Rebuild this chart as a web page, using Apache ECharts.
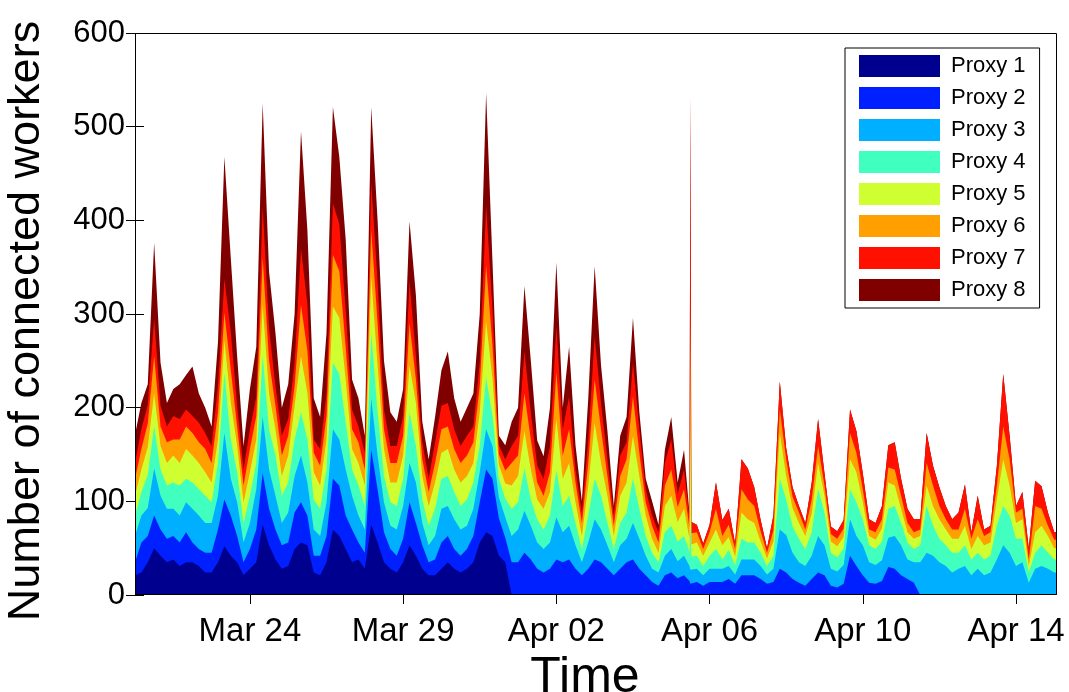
<!DOCTYPE html>
<html><head><meta charset="utf-8">
<script src="https://cdn.jsdelivr.net/npm/echarts@6/dist/echarts.min.js"></script>
<style>html,body{margin:0;padding:0;background:#fff}#c{width:1069px;height:692px}</style>
</head><body><div id="c"></div>
<script>
// ---- data ----
const seriesNames = ['Proxy 1','Proxy 2','Proxy 3','Proxy 4','Proxy 5','Proxy 6','Proxy 7','Proxy 8'];
const colors = ['#00008F','#0020FF','#00AFFF','#40FFBF','#CFFF30','#FF9F00','#FF1000','#800000'];
const tickDays = [3, 7, 11, 15, 19, 23];
const tickLabels = ['Mar 24','Mar 29','Apr 02','Apr 06','Apr 10','Apr 14'];
const sampleStepHours = 4; // one sample every 4 hours from the start of the plot

const proxy1 = [21,24,35,50,42,35,38,31,35,35, 31,24,24,35,52,42,35,21,28,35,
  75,53,38,28,31,49,56,53,24,21, 35,70,63,49,35,38,28,75,56,35,
  28,24,35,53,42,28,21,21,28,35, 28,24,28,35,56,67,63,42,35,0,
  0,0,0,0,0,0,0,0,0,0, 0,0,0,0,0,0,0,0,0,0, 0,0,0,0,0,0,0,0,0,0,
  0,0,0,0,0,0,0,0,0,0, 0,0,0,0,0,0,0,0,0,0, 0,0,0,0,0,0,0,0,0,0,
  0,0,0,0,0,0,0,0,0,0, 0,0,0,0,0,0,0,0,0,0, 0,0,0,0,0,0];
const proxy2 = [14,32,28,35,28,25,25,25,32,21, 18,21,21,35,50,43,28,14,21,35,
  55,39,32,25,25,39,43,32,18,21, 28,54,54,36,35,18,17,80,57,32,
  21,18,25,46,35,25,14,17,28,28, 21,18,21,28,43,67,61,40,26,35,
  35,45,38,28,24,28,38,35,38,28, 21,28,38,35,28,21,28,35,38,28,
  21,14,10,21,24,18,21,12,14,10, 14,14,14,17,12,21,21,21,17,12,
  14,28,24,17,13,10,17,24,21,10, 8,12,42,31,21,13,12,15,30,28,
  21,17,13,0,0,0,0,0,0,0, 0,0,0,0,0,0,0,0,0,0, 0,0,0,0,0,0];
const proxy3 = [28,29,30,50,36,32,29,29,32,36, 36,32,32,36,71,39,36,21,28,43,
  60,42,36,24,32,39,50,35,28,21, 36,53,49,49,36,29,25,55,36,32,
  25,28,35,42,43,24,18,25,36,32, 32,28,25,29,32,43,35,22,22,28,
  35,45,36,28,25,28,45,32,36,25, 14,28,43,35,25,14,25,25,39,32,
  21,14,14,21,25,18,21,15,14,11, 14,14,14,14,10,17,17,17,14,10,
  14,42,40,28,22,21,25,39,32,18, 17,20,39,32,32,22,20,22,31,35,
  32,21,22,35,45,42,35,31,24,28, 31,21,28,21,24,38,53,45,31,35, 13,28,31,28,24,24];
const proxy4 = [22,25,35,45,28,25,28,32,25,28, 28,29,22,35,64,42,32,21,29,28,
  65,43,43,29,32,39,46,46,32,29, 35,71,70,50,28,32,25,70,46,28,
  25,25,29,54,39,25,21,29,32,32, 29,25,28,28,28,55,32,20,20,29,
  29,45,28,25,21,29,50,28,32,24, 14,29,43,36,24,14,24,28,47,32,
  21,17,11,25,25,21,21,50,14,10, 14,21,10,17,10,22,18,18,14,9,
  14,54,38,28,25,18,25,50,35,17, 15,18,32,36,28,18,17,20,31,32,
  24,18,14,18,50,32,25,22,21,17, 22,17,17,17,18,36,42,40,29,25, 11,17,22,17,14,14];
const proxy5 = [21,24,30,35,25,24,29,24,32,29, 28,25,21,25,35,40,28,22,25,25,
  55,38,28,21,29,36,60,50,29,25, 32,60,60,46,22,24,22,60,50,29,
  21,25,25,50,46,25,21,28,28,29, 24,25,25,21,36,60,40,15,16,25,
  28,40,32,21,22,25,55,29,35,22, 14,32,60,35,29,14,29,32,46,35,
  22,15,10,28,32,21,29,100,14,11, 14,21,15,14,9,28,25,21,12,8,
  15,49,25,20,17,14,20,28,18,12, 12,12,32,32,18,10,10,14,28,22,
  15,11,11,10,22,21,21,17,15,15, 21,11,18,15,14,28,50,32,17,21, 7,22,21,18,12,12];
const proxy6 = [18,22,25,40,21,22,17,25,24,24, 22,25,21,29,29,35,21,18,25,25,
  50,35,25,22,21,21,55,45,21,21, 25,55,50,35,21,22,17,50,45,21,
  21,21,21,45,25,18,15,21,25,24, 22,21,22,22,28,60,35,11,14,24,
  22,40,32,18,14,21,50,25,36,21, 14,24,46,36,21,11,21,25,42,25,
  14,14,11,22,28,16,21,120,11,7, 11,22,10,13,8,25,21,18,11,6,
  12,25,18,12,11,7,15,18,11,8, 8,9,28,21,14,7,8,10,16,17,
  14,10,7,7,24,22,14,11,10,10, 18,11,18,10,11,15,35,28,11,11, 7,28,18,11,9,9];
const proxy7 = [17,21,20,40,22,17,25,22,18,18, 21,17,18,28,36,40,22,17,21,21,
  55,35,21,21,18,25,60,50,14,18, 25,55,50,40,21,17,18,50,45,21,
  18,18,21,45,25,18,14,22,25,25, 21,18,21,17,25,64,39,10,12,18,
  21,45,29,18,18,28,49,28,35,14, 11,25,46,28,18,11,22,18,36,25,
  14,11,11,24,32,14,21,235,8,6, 8,28,17,17,6,32,33,20,12,5,
  16,30,12,10,7,7,18,29,13,8, 8,9,25,23,17,11,10,14,24,29,
  18,15,14,11,32,21,20,14,11,18, 26,7,25,7,7,21,56,25,7,18, 12,27,24,14,8,8];
const proxy8 = [30,28,22,81,46,25,29,37,37,53, 31,27,21,47,131,79,53,25,43,53,
  110,60,57,30,37,52,125,79,44,34, 64,103,72,75,32,30,18,81,65,52,
  36,26,29,64,65,22,21,27,38,55, 33,26,30,35,52,120,50,10,15,26,
  30,70,55,27,24,41,68,23,53,26, 12,44,75,40,30,10,21,27,48,18,
  11,15,8,14,24,12,21,0,0,0, 0,0,0,0,0,0,0,0,0,0,
  0,0,0,0,0,0,0,0,0,0, 0,0,0,0,0,0,0,0,0,0,
  0,0,0,0,0,0,0,0,0,0, 0,0,0,0,0,0,0,0,0,0, 0,0,0,0,0,0];

// extra samples on each side of the short outage spike (hours from start)
const spikeSideHours = [347.4, 348.6];
const spikeSide1 = [0, 0];
const spikeSide2 = [15, 12];
const spikeSide3 = [16, 15];
const spikeSide4 = [15, 14];
const spikeSide5 = [14, 13];
const spikeSide6 = [12, 12];
const spikeSide7 = [10, 12];
const spikeSide8 = [5, 0];

// ---- build ----
const layers = [proxy1, proxy2, proxy3, proxy4, proxy5, proxy6, proxy7, proxy8];
const sides = [spikeSide1, spikeSide2, spikeSide3, spikeSide4, spikeSide5, spikeSide6, spikeSide7, spikeSide8];
const gridHours = proxy1.map((_, i) => i * sampleStepHours);
const allHours = gridHours.concat(spikeSideHours);
const order = allHours.map((_, i) => i).sort((a, b) => allHours[a] - allHours[b]);
const full = layers.map((arr, k) => arr.concat(sides[k]));
const cumulative = [];
let running = allHours.map(() => 0);
full.forEach(arr => { running = running.map((v, i) => v + arr[i]); cumulative.push(running.slice()); });

const FONT = 'Liberation Sans, Arial, sans-serif';
const series = [];
for (let k = layers.length - 1; k >= 0; k--) {
  series.push({
    name: seriesNames[k], type: 'line', symbol: 'none', showSymbol: false, animation: false,
    data: order.map(i => [allHours[i] / 24, cumulative[k][i]]),
    lineStyle: { width: 0, color: colors[k] },
    itemStyle: { color: colors[k] },
    areaStyle: { color: colors[k], opacity: 1, origin: 'start' },
    z: 2
  });
}

const chart = echarts.init(document.getElementById('c'), null, { renderer: 'canvas' });
const xMax = 24.07;
chart.setOption({
  animation: false,
  backgroundColor: '#fff',
  grid: { left: 135, top: 33, width: 922, height: 562, containLabel: false, outerBoundsMode: 'none' },
  legend: {
    data: seriesNames, orient: 'vertical', left: 845, top: 48,
    icon: 'rect', itemWidth: 81, itemHeight: 22, itemGap: 10,
    padding: [7, 14, 7, 14], backgroundColor: '#fff', borderColor: '#000', borderWidth: 1,
    textStyle: { fontFamily: FONT, fontSize: 22, color: '#000', padding: [0, 0, 0, 6] },
    z: 20
  },
  xAxis: [{
    type: 'value', min: 0, max: xMax, position: 'bottom',
    axisLine: { show: false },
    axisTick: { show: false },
    splitLine: { show: false },
    axisLabel: {
      customValues: tickDays, color: '#000', fontFamily: FONT, fontSize: 33, margin: 20,
      formatter: v => { const j = tickDays.indexOf(Math.round(v)); return j >= 0 ? tickLabels[j] : ''; }
    },
    name: 'Time', nameLocation: 'middle', nameGap: 56,
    nameTextStyle: { fontFamily: FONT, fontSize: 50, color: '#000', padding: [0, 22, 0, 0] }
  }, {
    type: 'value', min: 0, max: xMax, position: 'top',
    axisLine: { show: false },
    axisTick: { show: true, inside: true, length: 9, customValues: tickDays, lineStyle: { color: '#000', width: 1 } },
    axisLabel: { show: false }, splitLine: { show: false }
  }],
  yAxis: [{
    type: 'value', min: 0, max: 600, interval: 100, position: 'left',
    axisLine: { show: false },
    axisTick: { show: true, inside: true, length: 9, lineStyle: { color: '#000', width: 1 } },
    splitLine: { show: false },
    axisLabel: { color: '#000', fontFamily: FONT, fontSize: 31, margin: 10 },
    name: 'Number of connected workers', nameLocation: 'middle', nameGap: 86,
    nameTextStyle: { fontFamily: FONT, fontSize: 45, color: '#000', padding: [0, 14, 0, 0] }
  }, {
    type: 'value', min: 0, max: 600, interval: 100, position: 'right',
    axisLine: { show: false },
    axisTick: { show: true, inside: true, length: 9, lineStyle: { color: '#000', width: 1 } },
    splitLine: { show: false }, axisLabel: { show: false }
  }],
  graphic: [{
    type: 'rect', z: 100, silent: true,
    shape: { x: 135.5, y: 33.5, width: 921, height: 561 },
    style: { fill: 'none', stroke: '#000', lineWidth: 1 }
  }],
  series: series
});
</script>
</body></html>
